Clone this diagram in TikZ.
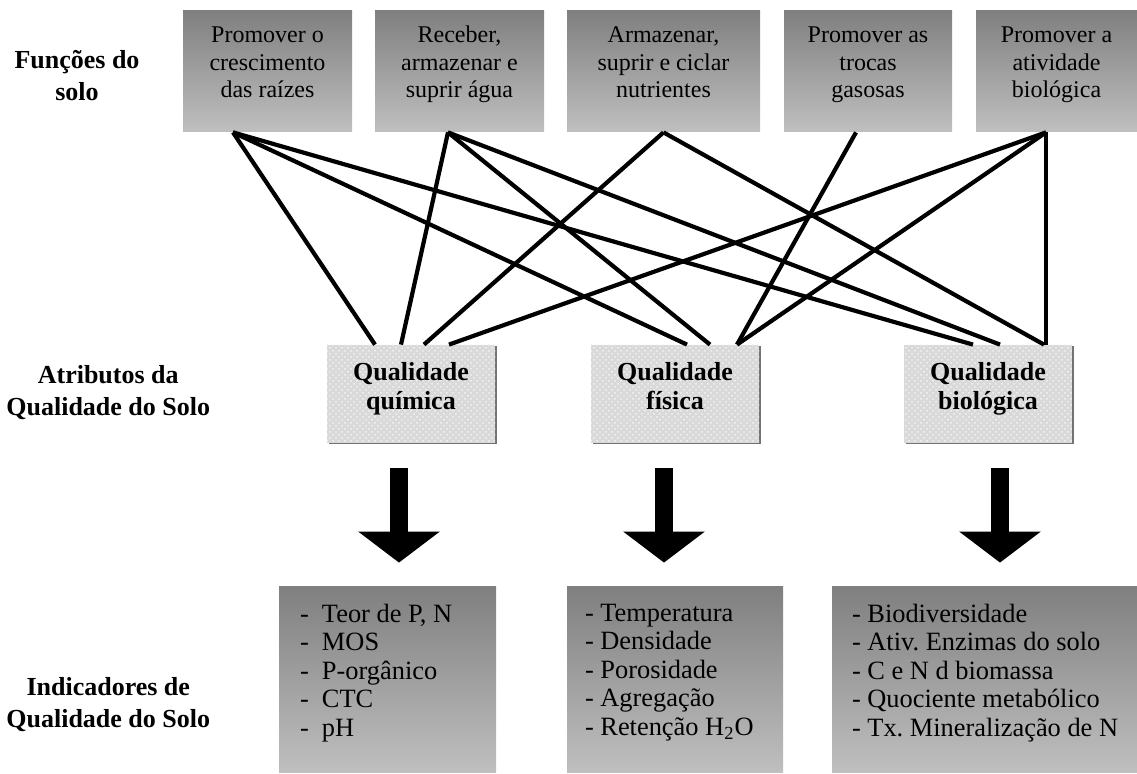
\documentclass[tikz,border=0pt]{standalone}
\usepackage{fontspec}
\setmainfont{Liberation Serif}
\usepackage{tikz}
\usetikzlibrary{positioning}
\usetikzlibrary{arrows.meta,patterns,shadows}
\tikzset{
	funcbox/.style={rectangle, top color=black!50, bottom color=black!25, minimum height=60.5pt, inner sep=0pt},
	functext/.style={align=center, inner sep=0pt, font=\fontsize{12pt}{13.75pt}\selectfont},
	qualbox/.style={rectangle, drop shadow={shadow xshift=0.9pt, shadow yshift=-0.3pt, opacity=1, fill=black!55}, fill=black!15, postaction={pattern=crosshatch dots, pattern color=black!5}, minimum width=84pt, minimum height=49pt},
	qualtext/.style={align=center, inner sep=0pt, font=\bfseries\fontsize{13pt}{14.5pt}\selectfont},
	indbox/.style={rectangle, top color=black!50, bottom color=black!25, minimum height=93pt, inner sep=0pt},
	indtext/.style={align=left, inner sep=0pt, font=\fontsize{13.2pt}{14.25pt}\selectfont},
	sidetext/.style={align=center, inner sep=0pt, font=\bfseries\fontsize{13pt}{16pt}\selectfont},
	link/.style={line width=2.1pt},
	bigarrow/.style={line width=9pt, -{Triangle[width=40pt,length=15.5pt]}}
}

\begin{document}
\begin{tikzpicture}[x=0.5pt, y=-0.5pt]
		\useasboundingbox (0,0) rectangle (1137,774);
		%Funcoes do solo
		\node[sidetext] at (77,76) (T1) {Funções do\\solo};
		\node[funcbox, minimum width=84.5pt] at (267.5,71.5) (F1) {};
		\node[funcbox, minimum width=84.5pt] at (459.5,71.5) (F2) {};
		\node[funcbox, minimum width=96.5pt] at (663.5,71.5) (F3) {};
		\node[funcbox, minimum width=84pt] at (868,71.5) (F4) {};
		\node[funcbox, minimum width=80.5pt] at (1056.5,71.5) (F5) {};
		\node[functext, below=6.3pt] at (F1.north) (F1t) {\strut Promover o\\crescimento\\das raízes};
		\node[functext, below=6.3pt] at (F2.north) (F2t) {\strut Receber,\\armazenar e\\suprir água};
		\node[functext, below=6.3pt] at (F3.north) (F3t) {\strut Armazenar,\\suprir e ciclar\\nutrientes};
		\node[functext, below=6.3pt] at (F4.north) (F4t) {\strut Promover as\\trocas\\gasosas};
		\node[functext, below=6.3pt] at (F5.north) (F5t) {\strut Promover a\\atividade\\biológica};
		
		%Atributos
		\node[sidetext, anchor=west] at (6,393) (T2) {Atributos da\\Qualidade do Solo};
		\node[qualbox] at (411,394) (Q1) {};
		\node[qualbox] at (675,394) (Q2) {};
		\node[qualbox] at (988,394) (Q3) {};
		\node[qualtext] at ([yshift=2.5pt]Q1.center) (Q1t) {\strut Qualidade\\\strut química};
		\node[qualtext] at ([yshift=2.5pt]Q2.center) (Q2t) {\strut Qualidade\\\strut física};
		\node[qualtext] at ([yshift=2.5pt]Q3.center) (Q3t) {\strut Qualidade\\\strut biológica};
		
		%Lines
		\draw[link] ([xshift=-17.25pt]F1.south) -- ([xshift=-18pt]Q1.north);
		\draw[link] ([xshift=-17.25pt]F1.south) -- ([xshift=6pt]Q2.north);
		\draw[link] ([xshift=-17.25pt]F1.south) -- ([xshift=-7.5pt]Q3.north);
		\draw[link] ([xshift=-5.75pt]F2.south) -- ([xshift=-5pt]Q1.north);
		\draw[link] ([xshift=-5.75pt]F2.south) -- ([xshift=17.5pt]Q2.north);
		\draw[link] ([xshift=-5.75pt]F2.south) -- ([xshift=6pt]Q3.north);
		\draw[link] (F3.south) -- ([xshift=6.5pt]Q1.north);
		\draw[link] (F3.south) -- ([xshift=28pt]Q3.north);
		\draw[link] ([xshift=-6pt]F4.south) -- ([xshift=31pt]Q2.north);
		\draw[link] ([xshift=-5.25pt]F5.south) -- ([xshift=19pt]Q1.north);
		\draw[link] ([xshift=-5.25pt]F5.south) -- ([xshift=31pt]Q2.north);
		\draw[link] ([xshift=-5.25pt]F5.south) -- ([xshift=29pt]Q3.north);
		
		%Indicadores
		\node[sidetext, anchor=west] at (6,705) (T3) {Indicadores de\\Qualidade do Solo};
		\node[indbox, minimum width=108.5pt] at (387.5,680) (I1) {};
		\node[indbox, minimum width=108pt] at (675,680) (I2) {};
		\node[indbox, minimum width=152.5pt] at (984.5,680) (I3) {};
		\node[indtext, below right=8.5pt and 10.5pt of I1.north west] (I1t) {-\enspace Teor de P, N\\-\enspace MOS\\-\enspace P-orgânico\\-\enspace CTC\\-\enspace pH};
		\node[indtext, below right=8.5pt and 9pt of I2.north west] (I2t) {- Temperatura\\- Densidade\\- Porosidade\\- Agregação\\- Retenção H\textsubscript{2}O};
		\node[indtext, below right=8.5pt and 10pt of I3.north west] (I3t) {- Biodiversidade\\- Ativ.\ Enzimas do solo\\- C e N d biomassa\\- Quociente metabólico\\- Tx.\ Mineralização de N};
		
		%Arrows
		\draw[bigarrow] ([xshift=-6pt,yshift=-12.5pt]Q1.south) -- ([xshift=5.75pt,yshift=12pt]I1.north);
		\draw[bigarrow] ([xshift=-5.5pt,yshift=-12.5pt]Q2.south) -- ([xshift=-5.5pt,yshift=12pt]I2.north);
		\draw[bigarrow] ([xshift=6pt,yshift=-12.5pt]Q3.south) -- ([xshift=7.75pt,yshift=12pt]I3.north);
\end{tikzpicture}
\end{document}
